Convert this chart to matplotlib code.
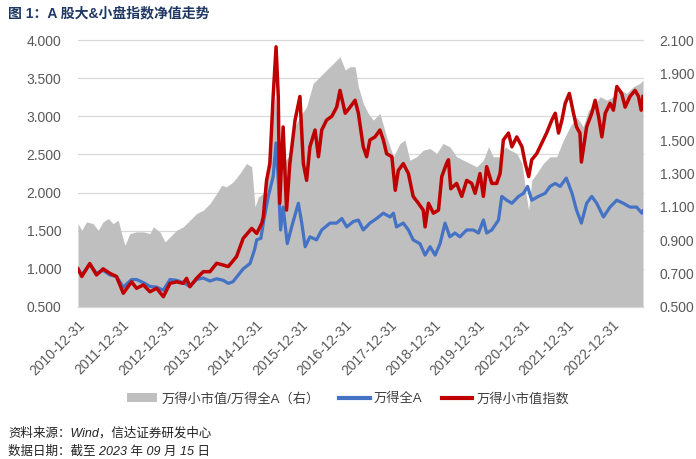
import matplotlib
matplotlib.use("Agg")
import matplotlib.pyplot as plt
from matplotlib.patches import Patch
from matplotlib.lines import Line2D
import pandas as pd

plt.rcParams['font.family'] = ['Liberation Sans', 'Noto Sans CJK SC', 'DejaVu Sans']

title = "图 1：A 股大&小盘指数净值走势"
label_ratio = "万得小市值/万得全A（右）"
label_all = "万得全A"
label_small = "万得小市值指数"
source_text = "资料来源：Wind，信达证券研发中心"
date_text = "数据日期：截至 2023 年 09 月 15 日"

red_dates = ["2010-12-31","2011-01-31","2011-04-07","2011-06-01","2011-07-25","2011-09-20","2011-11-12",
             "2012-01-07","2012-03-15","2012-04-25","2012-06-20","2012-08-13","2012-10-07","2012-12-01",
             "2013-01-25","2013-03-20","2013-05-13","2013-06-10","2013-07-07","2013-08-31","2013-10-25","2013-12-19",
             "2014-02-12","2014-04-07","2014-05-18","2014-07-25","2014-09-18","2014-11-27",
             "2015-01-07","2015-02-18","2015-03-02","2015-03-29","2015-04-25","2015-05-22","2015-06-15","2015-07-03",
             "2015-07-15","2015-08-12","2015-09-09","2015-10-06","2015-11-18","2015-12-28",
             "2016-01-25","2016-02-21","2016-03-19","2016-04-30","2016-05-28","2016-06-24","2016-08-03","2016-09-15",
             "2016-10-25","2016-11-21",
             "2017-01-03","2017-02-12","2017-03-25","2017-04-21","2017-05-31","2017-06-28","2017-07-25","2017-09-05",
             "2017-10-15","2017-11-12","2017-12-09",
             "2018-01-21","2018-02-18","2018-03-15","2018-04-25","2018-06-06","2018-07-15","2018-08-27","2018-10-06",
             "2018-10-21","2018-11-18","2018-12-28",
             "2019-02-08","2019-03-07","2019-04-15","2019-05-01","2019-05-20","2019-07-07","2019-08-18","2019-09-28",
             "2019-11-08","2019-12-06",
             "2020-01-15","2020-02-12","2020-03-10","2020-04-21","2020-05-31","2020-06-28","2020-07-25","2020-09-05",
             "2020-10-03","2020-11-12","2020-12-25",
             "2021-01-21","2021-02-18","2021-03-15","2021-04-25","2021-06-06","2021-07-15","2021-08-27","2021-09-24",
             "2021-10-21","2021-11-18","2021-12-15",
             "2022-01-18","2022-02-21","2022-03-18","2022-04-15","2022-04-27","2022-06-09","2022-07-21","2022-08-18",
             "2022-09-15","2022-10-12","2022-11-09","2022-12-18",
             "2023-01-15","2023-02-12","2023-03-24","2023-04-21","2023-05-31","2023-07-12","2023-08-09","2023-08-31",
             "2023-09-15"]
red_vals = [1.00,0.90,1.07,0.92,1.00,0.94,0.90,
            0.68,0.83,0.745,0.79,0.70,0.745,0.635,
            0.81,0.83,0.81,0.876,0.766,0.876,0.963,0.963,
            1.073,1.05,1.03,1.16,1.40,1.53,
            1.465,1.60,1.68,2.16,2.38,3.26,3.91,3.26,
            1.86,2.86,1.77,2.38,2.95,3.26,
            2.38,2.16,2.60,2.82,2.47,2.82,2.95,3.00,
            3.12,3.34,
            3.04,3.12,3.21,3.04,2.60,2.47,2.69,2.73,
            2.82,2.69,2.51,
            2.47,2.03,2.29,2.38,2.25,1.95,1.86,1.77,
            1.55,1.86,1.73,
            1.77,2.21,2.38,2.43,2.05,2.12,1.95,2.16,
            2.12,1.99,
            2.25,1.95,2.34,2.12,2.12,2.25,2.69,2.78,
            2.60,2.73,2.60,
            2.38,2.21,2.43,2.51,2.65,2.78,2.95,3.04,
            2.78,2.95,3.17,
            3.30,3.04,2.86,2.78,2.40,2.86,3.04,3.21,
            3.00,2.73,3.04,3.17,
            3.08,3.39,3.30,3.12,3.26,3.34,3.26,3.08,
            3.26]

blue_dates = ["2010-12-31","2011-01-31","2011-04-07","2011-06-01","2011-07-25","2011-09-20","2011-11-12",
              "2012-01-07","2012-03-15","2012-04-25","2012-06-20","2012-08-13","2012-10-07","2012-12-01",
              "2013-01-25","2013-03-20","2013-05-13","2013-07-07","2013-08-31","2013-10-25","2013-12-19",
              "2014-02-12","2014-04-07","2014-05-18","2014-06-25","2014-07-25","2014-09-18","2014-11-13","2014-12-20",
              "2015-01-07","2015-02-10","2015-03-02","2015-04-12","2015-05-22","2015-06-15","2015-07-03","2015-07-22",
              "2015-08-12","2015-09-15","2015-10-21","2015-12-15",
              "2016-01-12","2016-02-09","2016-03-19","2016-05-12","2016-06-24","2016-08-31","2016-10-25","2016-12-06",
              "2017-01-15","2017-03-10","2017-04-21","2017-05-31","2017-07-25","2017-09-18","2017-11-12",
              "2018-01-06","2018-02-03","2018-02-28","2018-04-25","2018-06-06","2018-07-15","2018-09-09","2018-10-21",
              "2018-12-01",
              "2019-01-12","2019-02-21","2019-04-03","2019-05-12","2019-06-24","2019-08-03","2019-09-28","2019-11-21",
              "2020-01-03","2020-02-12","2020-03-10","2020-04-21","2020-06-15","2020-07-12","2020-08-21","2020-10-03",
              "2020-11-27",
              "2021-01-06","2021-02-09","2021-03-15","2021-05-09","2021-07-03","2021-08-12","2021-09-24","2021-11-03",
              "2021-12-24",
              "2022-02-09","2022-03-18","2022-04-27","2022-06-09","2022-07-21","2022-08-31","2022-10-25","2022-12-18",
              "2023-02-12","2023-04-06","2023-05-31","2023-07-24","2023-09-06","2023-09-15"]
blue_vals = [1.00,0.92,1.06,0.94,0.98,0.92,0.90,
             0.76,0.86,0.86,0.82,0.77,0.76,0.72,
             0.86,0.85,0.82,0.77,0.86,0.88,0.84,
             0.87,0.85,0.81,0.83,0.89,1.00,1.07,1.25,
             1.38,1.40,1.60,1.95,2.21,2.65,2.16,1.51,
             1.81,1.33,1.55,1.86,
             1.60,1.29,1.42,1.38,1.51,1.60,1.60,1.66,
             1.55,1.62,1.64,1.51,1.60,1.66,1.73,
             1.68,1.73,1.55,1.60,1.51,1.38,1.33,1.18,
             1.29,
             1.18,1.33,1.60,1.42,1.47,1.42,1.51,1.51,
             1.47,1.64,1.47,1.51,1.64,1.95,1.90,1.86,
             1.95,
             1.99,2.08,1.90,1.95,1.99,2.08,2.12,2.08,
             2.19,
             1.99,1.77,1.60,1.86,1.95,1.86,1.68,1.81,
             1.90,1.86,1.81,1.81,1.73,1.76]

gray_dates = ["2010-12-31","2011-01-31","2011-03-10","2011-05-03","2011-06-15","2011-07-25","2011-09-06","2011-10-15",
              "2011-11-27","2011-12-24",
              "2012-01-21","2012-03-01","2012-04-25","2012-06-20","2012-08-13","2012-09-10","2012-11-03","2012-12-15",
              "2013-01-25","2013-03-20","2013-05-13","2013-07-07","2013-08-31","2013-10-25","2013-12-19",
              "2014-02-12","2014-03-25","2014-05-03","2014-06-28","2014-08-21","2014-10-15","2014-11-27","2014-12-24",
              "2015-01-21","2015-03-02","2015-03-29","2015-05-09","2015-06-06","2015-07-03","2015-08-12","2015-09-24",
              "2015-11-03","2015-12-28",
              "2016-02-21","2016-04-15","2016-06-09","2016-08-03","2016-09-28","2016-11-21",
              "2017-01-03","2017-02-12","2017-03-25","2017-04-21","2017-05-31","2017-07-12","2017-08-21","2017-10-15",
              "2017-12-09",
              "2018-02-03","2018-03-28","2018-05-09","2018-06-18","2018-08-12","2018-10-06","2018-12-01",
              "2019-01-24","2019-03-18","2019-05-12","2019-07-07","2019-08-31","2019-10-25","2019-12-19",
              "2020-02-12","2020-03-25","2020-05-03","2020-06-28","2020-08-09","2020-09-18","2020-11-12","2020-12-25",
              "2021-01-31","2021-02-18","2021-03-15","2021-04-25","2021-06-18","2021-08-12","2021-10-06","2021-11-30",
              "2022-01-24","2022-03-18","2022-05-12","2022-06-24","2022-08-03","2022-09-28","2022-11-21",
              "2023-01-15","2023-03-10","2023-05-03","2023-06-28","2023-08-21","2023-09-15"]
gray_vals = [1.00,0.96,1.01,1.00,0.96,1.01,1.03,1.00,
             1.02,0.94,
             0.87,0.94,0.95,0.95,0.94,0.98,0.95,0.89,
             0.92,0.96,0.98,1.02,1.06,1.08,1.12,
             1.18,1.23,1.22,1.25,1.30,1.36,1.34,1.10,
             1.16,1.18,1.32,1.56,1.76,1.56,1.36,1.40,
             1.56,1.64,
             1.70,1.84,1.88,1.92,1.96,2.00,
             1.92,1.94,1.94,1.82,1.72,1.66,1.62,1.66,
             1.52,
             1.40,1.48,1.50,1.38,1.40,1.44,1.45,
             1.42,1.48,1.46,1.40,1.38,1.36,1.34,
             1.38,1.46,1.40,1.40,1.46,1.44,1.42,1.36,
             1.16,1.08,1.26,1.30,1.36,1.40,1.40,1.50,
             1.58,1.64,1.58,1.68,1.70,1.76,1.74,
             1.76,1.80,1.78,1.82,1.84,1.86]

left_ticks = [0.5, 1.0, 1.5, 2.0, 2.5, 3.0, 3.5, 4.0]
right_ticks = [0.5, 0.7, 0.9, 1.1, 1.3, 1.5, 1.7, 1.9, 2.1]
x_tick_dates = ["2010-12-31","2011-12-31","2012-12-31","2013-12-31","2014-12-31","2015-12-31","2016-12-31",
                "2017-12-31","2018-12-31","2019-12-31","2020-12-31","2021-12-31","2022-12-31"]
x_start, x_end = "2010-12-31", "2023-09-15"

C_GRAY = "#bfbfbf"
C_BLUE = "#4472c4"
C_RED = "#c00000"
C_TICK = "#595959"
C_GRID = "#d9d9d9"

fig = plt.figure(figsize=(6.96, 4.59), dpi=100)
ax = fig.add_axes([78/696, 1-307/459, (643-78)/696, (307-40)/459])
ax2 = ax.twinx()
ax.set_zorder(ax2.get_zorder() + 1)
ax.patch.set_visible(False)

rd = pd.to_datetime(red_dates)
bd = pd.to_datetime(blue_dates)
gd = pd.to_datetime(gray_dates)

# gridlines (left-scale positions) behind the gray area
for yv in left_ticks:
    ax2.plot([0, 1], [yv, yv], transform=ax.get_yaxis_transform(), color=C_GRID, lw=0.9, zorder=0, clip_on=False)

ax2.fill_between(gd, 0, gray_vals, color=C_GRAY, lw=0, zorder=1)
ax.plot(bd, blue_vals, color=C_BLUE, lw=2.3, solid_joinstyle='round', zorder=3)
ax.plot(rd, red_vals, color=C_RED, lw=2.5, solid_joinstyle='round', zorder=4)

ax.set_xlim(pd.Timestamp(x_start), pd.Timestamp(x_end))
ax.set_ylim(0.5, 4.0)
ax2.set_ylim(0.5, 2.1)
ax.set_yticks(left_ticks)
ax.set_yticklabels([f"{v:.3f}" for v in left_ticks])
ax2.set_yticks(right_ticks)
ax2.set_yticklabels([f"{v:.3f}" for v in right_ticks])

ax.set_xticks(pd.to_datetime(x_tick_dates))
ax.set_xticklabels(x_tick_dates, rotation=45, ha='right', rotation_mode='anchor')

for a in (ax, ax2):
    for s in ('top', 'left', 'right', 'bottom'):
        a.spines[s].set_visible(False)
ax2.spines['bottom'].set_visible(True)
ax2.spines['bottom'].set_color(C_GRID)

ax.tick_params(axis='y', length=0, pad=12, labelsize=10, labelcolor=C_TICK)
ax2.tick_params(axis='y', length=0, pad=12, labelsize=10, labelcolor=C_TICK)
ax.tick_params(axis='x', length=0, pad=8, labelsize=10, labelcolor=C_TICK)

fig.text(8/696, 1-13/459, title, fontsize=10, fontweight='bold', color='#203864',
         family=['Liberation Sans', 'Noto Sans CJK SC'], va='center', ha='left')

handles = [Patch(facecolor=C_GRAY, edgecolor='none'),
           Line2D([], [], color=C_BLUE, lw=3),
           Line2D([], [], color=C_RED, lw=3)]
fig.legend(handles, [label_ratio, label_all, label_small], loc='center', ncol=3,
           bbox_to_anchor=(0.5, 1-399/459), frameon=False, fontsize=9.5,
           handlelength=2.3, handletextpad=0.3, columnspacing=1.5, labelcolor='#404040')

fig.text(8/696, 1-433/459, source_text, fontsize=9, color='#222222', va='center', ha='left', style='italic')
fig.text(8/696, 1-452/459, date_text, fontsize=9, color='#222222', va='center', ha='left', style='italic')

fig.savefig("out.png", dpi=100)
